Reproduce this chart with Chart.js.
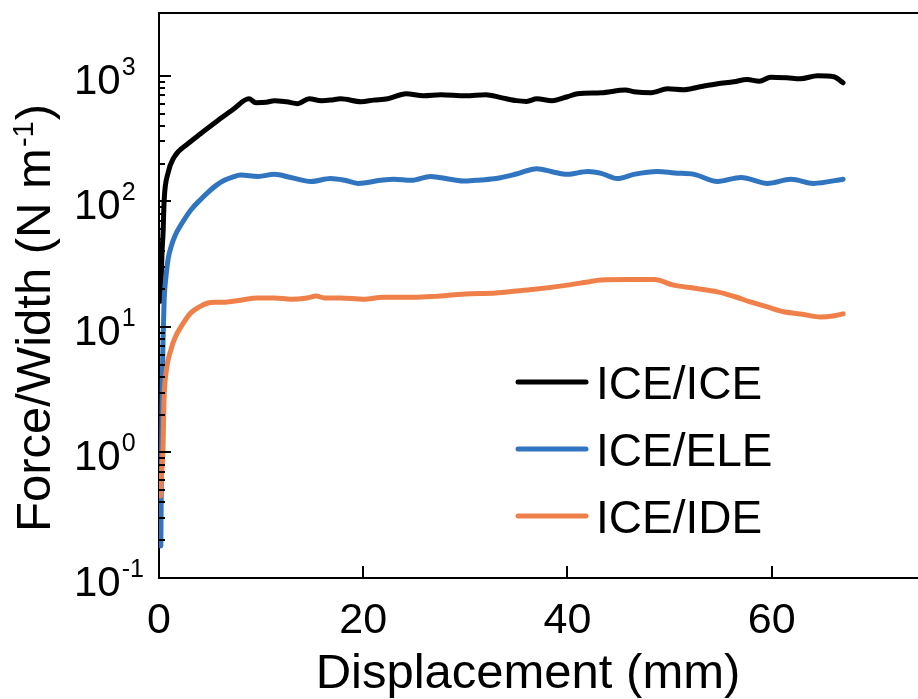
<!DOCTYPE html>
<html>
<head>
<meta charset="utf-8">
<script src="https://cdn.jsdelivr.net/npm/chart.js@4.4.1/dist/chart.umd.min.js"></script>
<style>
  html, body { margin: 0; padding: 0; background: #fff; overflow: hidden; }
  canvas { display: block; }
</style>
</head>
<body>
<canvas id="peel" width="940" height="699"></canvas>
<script>
// Peel curves: force per width (N/m) against displacement (mm)
const iceIceX = [0.15, 0.3, 0.4, 0.5, 0.88, 1.47, 2.84, 4.1, 5.77, 7.34, 8.8, 9.5, 10.5, 11.3, 12.5, 13.6, 14.7, 15.9, 16.8, 17.8, 19.8, 21, 22.4, 24.2, 25.9, 27.6, 30, 32, 33.5, 35, 36, 37, 38.5, 40, 41, 43.3, 45.7, 46.5, 48.2, 49.8, 51.4, 53.0, 54.7, 56.3, 57.6, 58.8, 59.9, 61.5, 62.8, 64.5, 66.1, 67.0];
const iceIceY = [16, 40, 56, 100, 167, 224, 288, 347, 440, 547, 656, 611, 615, 634, 620, 600, 656, 634, 640, 656, 622, 640, 656, 720, 694, 707, 694, 707, 670, 634, 625, 656, 634, 681, 720, 733, 770, 747, 733, 788, 774, 818, 864, 896, 935, 905, 975, 964, 947, 1000, 982, 880];

const iceEleX = [0.18, 0.22, 0.27, 0.33, 0.4, 0.5, 0.7, 0.9, 1.2, 1.6, 2.15, 3.1, 4.1, 4.8, 5.6, 6.4, 7.2, 8.0, 9.7, 11.3, 12.9, 14.9, 16.8, 18.2, 19.5, 21.7, 23, 24.7, 26.6, 28.5, 30, 31.5, 33, 35, 37, 38.5, 40, 42, 43.3, 44.9, 46.5, 48.8, 50.5, 52.4, 54.7, 57.0, 59.6, 61.9, 64.1, 67.0];
const iceEleY = [0.18, 0.5, 1.5, 4, 8, 16, 26, 35, 44, 54, 65, 85, 104, 118, 134, 147, 156, 162, 158, 164, 155, 144, 152, 147, 139, 147, 150, 147, 158, 150, 145, 148, 152, 165, 182, 172, 164, 173, 167, 152, 164, 173, 168, 164, 144, 155, 139, 150, 139, 150];

const iceIdeX = [0.15, 0.2, 0.39, 0.49, 0.69, 1.17, 1.6, 2.15, 3.1, 4.0, 4.8, 5.7, 6.7, 8.0, 9.6, 11.3, 12.9, 14.5, 15.4, 16.2, 17.8, 20, 22, 25, 27, 30, 33, 35, 37, 40, 42, 43.3, 46, 48.5, 50.4, 52.5, 54.7, 56.5, 57.9, 59.5, 61.2, 63, 64.8, 66, 67];
const iceIdeY = [0.45, 0.58, 1.06, 2.6, 4.3, 6.6, 8.3, 10, 12.9, 14.5, 15.5, 15.7, 15.8, 16.3, 17, 17, 16.6, 17, 17.6, 17, 17, 16.6, 17.2, 17.2, 17.5, 18.3, 18.6, 19.3, 20, 21.5, 22.8, 23.6, 23.8, 23.8, 21.5, 20.3, 19, 17.3, 15.8, 14.5, 13.2, 12.6, 12.0, 12.2, 12.7];

const seriesNames = ['ICE/ICE', 'ICE/ELE', 'ICE/IDE'];
const seriesColors = ['#000000', '#3174bf', '#f0804a'];
const xTickValues = [0, 20, 40, 60];
const yTickExponents = [3, 2, 1, 0, -1];
const xTitle = 'Displacement (mm)';
const yTitleMain = 'Force/Width (N m';
const yTitleSup = '-1';
const yTitleEnd = ')';

const FONT = "'Liberation Sans', Arial, Helvetica, sans-serif";

const pts = (xs, ys) => xs.map((v, i) => ({ x: v, y: ys[i] }));

const decor = {
  id: 'decor',
  afterDraw(chart) {
    const { ctx, chartArea: a, scales: { x, y } } = chart;
    ctx.save();
    ctx.strokeStyle = '#000';
    ctx.fillStyle = '#000';
    ctx.lineWidth = 2;

    // top frame line
    ctx.beginPath();
    ctx.moveTo(a.left - 1, a.top);
    ctx.lineTo(a.right + 2, a.top);
    ctx.stroke();

    // inward log ticks on the y axis
    for (let e = -1; e <= 3; e++) {
      const maxM = e === 3 ? 1 : 9;
      for (let m = 1; m <= maxM; m++) {
        const py = Math.round(y.getPixelForValue(m * Math.pow(10, e)));
        const len = m === 1 ? 12 : 6;
        ctx.beginPath();
        ctx.moveTo(a.left, py);
        ctx.lineTo(a.left + len, py);
        ctx.stroke();
      }
    }

    // inward ticks on the x axis
    xTickValues.forEach(v => {
      if (v === 0) return;
      const px = Math.round(x.getPixelForValue(v));
      ctx.beginPath();
      ctx.moveTo(px, a.bottom);
      ctx.lineTo(px, a.bottom - 12);
      ctx.stroke();
    });

    // x tick labels
    ctx.font = `43px ${FONT}`;
    ctx.textAlign = 'center';
    ctx.textBaseline = 'alphabetic';
    xTickValues.forEach(v => {
      ctx.fillText(String(v), x.getPixelForValue(v), 633);
    });

    // y tick labels: 10 with superscript exponent
    yTickExponents.forEach(e => {
      const py = y.getPixelForValue(Math.pow(10, e));
      ctx.textAlign = 'left';
      ctx.font = `42px ${FONT}`;
      ctx.fillText('10', 74, py + 18);
      const w = ctx.measureText('10').width;
      ctx.font = `25px ${FONT}`;
      ctx.fillText(String(e), 74 + w + 1, py - 1);
    });

    // x axis title
    ctx.font = `49px ${FONT}`;
    ctx.textAlign = 'center';
    ctx.fillText(xTitle, 528, 688);

    // y axis title, rotated, with superscript
    ctx.save();
    ctx.translate(50, 319);
    ctx.rotate(-Math.PI / 2);
    ctx.font = `49px ${FONT}`;
    const w1 = ctx.measureText(yTitleMain).width;
    const w3 = ctx.measureText(yTitleEnd).width;
    ctx.font = `29px ${FONT}`;
    const w2 = ctx.measureText(yTitleSup).width;
    const sx = -(w1 + w2 + w3) / 2;
    ctx.textAlign = 'left';
    ctx.font = `49px ${FONT}`;
    ctx.fillText(yTitleMain, sx, 0);
    ctx.font = `29px ${FONT}`;
    ctx.fillText(yTitleSup, sx + w1 + 1, -17);
    ctx.font = `49px ${FONT}`;
    ctx.fillText(yTitleEnd, sx + w1 + w2 + 2, 0);
    ctx.restore();

    // legend
    const legendY = [382, 449, 516];
    seriesNames.forEach((name, i) => {
      ctx.strokeStyle = seriesColors[i];
      ctx.lineWidth = 5;
      ctx.lineCap = 'round';
      ctx.beginPath();
      ctx.moveTo(518, legendY[i]);
      ctx.lineTo(586, legendY[i]);
      ctx.stroke();
      ctx.fillStyle = '#000';
      ctx.font = `46px ${FONT}`;
      ctx.textAlign = 'left';
      ctx.fillText(name, 596, legendY[i] + 17);
    });
    ctx.restore();
  }
};

const lineStyle = (i, order) => ({
  borderColor: seriesColors[i],
  backgroundColor: seriesColors[i],
  borderWidth: 5,
  pointRadius: 0,
  borderCapStyle: 'round',
  borderJoinStyle: 'round',
  cubicInterpolationMode: 'monotone',
  fill: false,
  order
});

new Chart(document.getElementById('peel'), {
  type: 'line',
  data: {
    datasets: [
      { label: seriesNames[0], data: pts(iceIceX, iceIceY), ...lineStyle(0, 3) },
      { label: seriesNames[1], data: pts(iceEleX, iceEleY), ...lineStyle(1, 2) },
      { label: seriesNames[2], data: pts(iceIdeX, iceIdeY), ...lineStyle(2, 1) }
    ]
  },
  options: {
    responsive: false,
    animation: false,
    devicePixelRatio: 1,
    layout: { padding: { left: 151, top: 13, right: 5, bottom: 113 } },
    plugins: { legend: { display: false }, tooltip: { enabled: false } },
    scales: {
      x: {
        type: 'linear',
        min: 0,
        max: 76,
        grid: { display: false },
        ticks: { display: false },
        border: { display: true, color: '#000', width: 2 }
      },
      y: {
        type: 'logarithmic',
        min: 0.1,
        max: 3162.28,
        grid: { display: false },
        ticks: { display: false },
        border: { display: true, color: '#000', width: 2 }
      }
    }
  },
  plugins: [decor]
});
</script>
</body>
</html>
